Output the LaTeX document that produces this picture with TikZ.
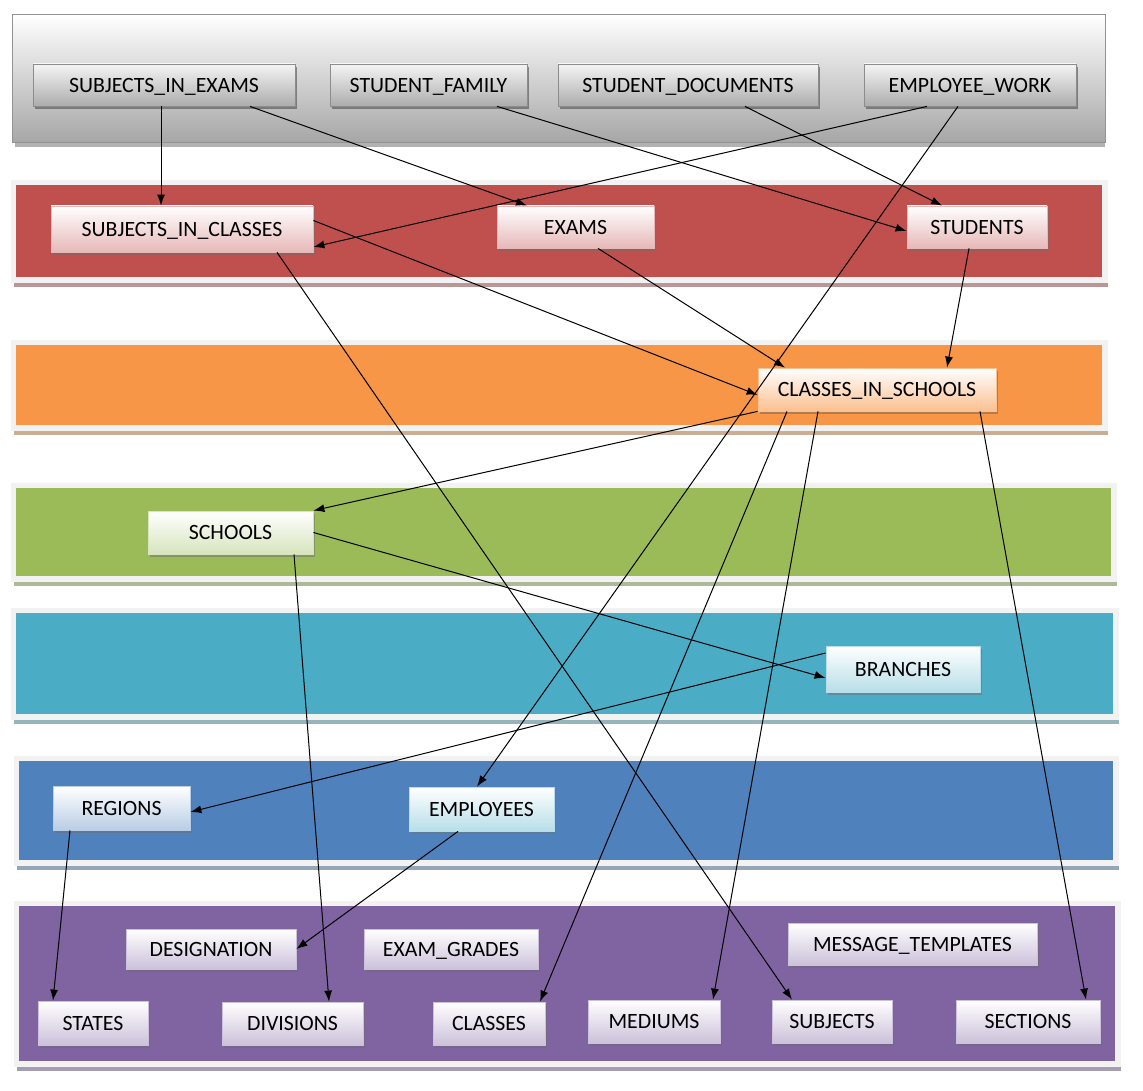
\documentclass[tikz,border=0pt]{standalone}
\usepackage{fontspec}
\newfontfamily\carl{Carlito}
\usetikzlibrary{arrows.meta,shadows}
\definecolor{cred}{HTML}{C0504D}
\definecolor{corange}{HTML}{F79646}
\definecolor{cgreen}{HTML}{9BBB59}
\definecolor{cteal}{HTML}{4BACC6}
\definecolor{cblue}{HTML}{4F81BD}
\definecolor{cpurple}{HTML}{8064A2}
\definecolor{framegray}{HTML}{F2F2F2}
\definecolor{tred}{HTML}{E6B9B8}
\definecolor{torange}{HTML}{FAC090}
\definecolor{tgreen}{HTML}{D7E4BD}
\definecolor{tteal}{HTML}{B7DEE8}
\definecolor{tblue}{HTML}{B9CDE5}
\definecolor{tpurple}{HTML}{CCC1DA}
\newcommand\bandbox[5]{%
  \fill[#5!45!gray!70!white] ({#1+3},{#4}) rectangle ({#3},{#4+4});
  \fill[framegray] (#1,#2) rectangle (#3,#4);
  \fill[#5] ({#1+5},{#2+5}) rectangle ({#3-6},{#4-6});
}
\tikzset{
  lbl/.style={font=\carl\fontsize{21.8}{24}\selectfont, text depth=0pt, yshift=-1pt},
  ent/.style={rectangle, draw=#1, line width=0.8pt, top color=white, bottom color=#1,
    lbl, inner sep=0pt,
    drop shadow={shadow xshift=2pt, shadow yshift=-3pt, fill=#1!55!black, opacity=0.6}},
  gent/.style={rectangle, draw=gray!90, line width=0.8pt, top color=gray!8, bottom color=gray!65,
    lbl, inner sep=0pt,
    drop shadow={shadow xshift=2pt, shadow yshift=-3pt, fill=gray!60!black, opacity=0.6}},
  arr/.style={-{Latex[length=11pt,width=8pt]}, line width=1pt, black},
}
\begin{document}
\begin{tikzpicture}[x=1pt,y=-1pt]
\useasboundingbox (0,0) rectangle (1143,1091);
\fill[white] (0,0) rectangle (1143,1091);
% top gray band
\fill[gray!60] (15,143) rectangle (1105,147);
\draw[gray!85, line width=1pt, top color=white, bottom color=gray!70] (12,15) rectangle (1105,143);
% coloured bands
\bandbox{11}{180}{1108}{283}{cred}
\bandbox{11}{340}{1108}{431}{corange}
\bandbox{11}{483}{1117}{582}{cgreen}
\bandbox{11}{608}{1119}{720}{cteal}
\bandbox{14}{756}{1119}{866}{cblue}
\bandbox{14}{901}{1121}{1067}{cpurple}

% nodes
\node[gent, minimum width=262, minimum height=42] (sie)   at (164,84)   {SUBJECTS\_IN\_EXAMS};
\node[gent, minimum width=197, minimum height=42] (sfam)  at (428.5,84) {STUDENT\_FAMILY};
\node[gent, minimum width=260, minimum height=42] (sdoc)  at (688,84)   {STUDENT\_DOCUMENTS};
\node[gent, minimum width=212, minimum height=42] (ework) at (970,84)   {EMPLOYEE\_WORK};

\node[ent=tred, minimum width=262, minimum height=46] (sic)      at (182,228)   {SUBJECTS\_IN\_CLASSES};
\node[ent=tred, minimum width=157, minimum height=42] (exams)    at (575.5,226) {EXAMS};
\node[ent=tred, minimum width=140, minimum height=42] (students) at (977,226)   {STUDENTS};

\node[ent=torange, minimum width=238, minimum height=43] (cis) at (877,388.5) {CLASSES\_IN\_SCHOOLS};

\node[ent=tgreen, minimum width=165, minimum height=43] (schools) at (230.5,531.5) {SCHOOLS};

\node[ent=tteal, minimum width=154, minimum height=46] (branches) at (903,668) {BRANCHES};

\node[ent=tblue, minimum width=137, minimum height=44] (regions)   at (121.5,807) {REGIONS};
\node[ent=tteal, minimum width=145, minimum height=44] (employees) at (481.5,808) {EMPLOYEES};

\node[ent=tpurple, minimum width=170, minimum height=40] (desig)  at (211,948)    {DESIGNATION};
\node[ent=tpurple, minimum width=174, minimum height=40] (egrades) at (451,948)   {EXAM\_GRADES};
\node[ent=tpurple, minimum width=249, minimum height=42] (msg)    at (912.5,943)  {MESSAGE\_TEMPLATES};
\node[ent=tpurple, minimum width=110, minimum height=44] (states) at (93,1022)     {STATES};
\node[ent=tpurple, minimum width=141, minimum height=43] (divs)   at (292.5,1022.5) {DIVISIONS};
\node[ent=tpurple, minimum width=112, minimum height=43] (classes) at (489,1022.5) {CLASSES};
\node[ent=tpurple, minimum width=132, minimum height=43] (mediums) at (654,1020.5) {MEDIUMS};
\node[ent=tpurple, minimum width=120, minimum height=43] (subjects) at (832,1020.5) {SUBJECTS};
\node[ent=tpurple, minimum width=144, minimum height=43] (sections) at (1028,1020.5) {SECTIONS};

% connectors
\draw[arr] ([xshift=-3]sie.south) -- ([xshift=-21]sic.north);
\draw[arr] ([xshift=86]sie.south) -- ([xshift=-48.5]exams.north);
\draw[arr] ([xshift=68.5]sfam.south) -- ([yshift=-4]students.west);
\draw[arr] ([xshift=57]sdoc.south) -- ([xshift=-35]students.north);
\draw[arr] ([xshift=-43]ework.south) -- ([yshift=-18]sic.east);
\draw[arr] ([xshift=-12]ework.south) -- ([xshift=-4.5]employees.north);
\draw[arr] ([yshift=8.5]sic.east) -- ([yshift=-5.5]cis.west);
\draw[arr] ([xshift=95]sic.south) -- ([xshift=-40]subjects.north);
\draw[arr] ([xshift=22.5]exams.south) -- ([xshift=-92]cis.north);
\draw[arr] ([xshift=-8]students.south) -- ([xshift=70]cis.north);
\draw[arr] (cis.south west) -- (schools.north east);
\draw[arr] ([xshift=-90]cis.south) -- ([xshift=51]classes.north);
\draw[arr] ([xshift=-59]cis.south) -- ([xshift=59]mediums.north);
\draw[arr] ([xshift=103]cis.south) -- ([xshift=58]sections.north);
\draw[arr] (schools.east) -- ([yshift=-9]branches.west);
\draw[arr] ([xshift=63.5]schools.south) -- ([xshift=36.5]divs.north);
\draw[arr] ([yshift=16]branches.west) -- ([yshift=-4]regions.east);
\draw[arr] ([xshift=-51.5]regions.south) -- ([xshift=-40]states.north);
\draw[arr] ([xshift=-23.5]employees.south) -- (desig.east);
\end{tikzpicture}
\end{document}
